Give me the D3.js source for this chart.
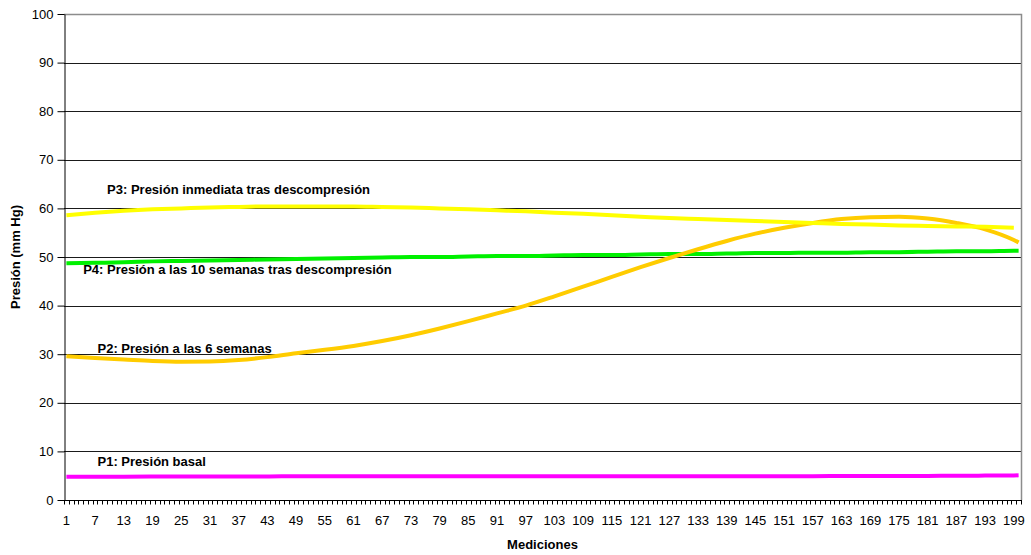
<!DOCTYPE html>
<html>
<head>
<meta charset="utf-8">
<script src="https://cdn.jsdelivr.net/npm/d3@7/dist/d3.min.js"></script>
<style>
  html, body { margin: 0; padding: 0; background: #fff; }
  svg { display: block; font-family: "Liberation Sans", Arial, sans-serif; }
</style>
</head>
<body>
<svg id="chart" width="1031" height="555"></svg>
<script>
// Measurement numbers 1..200 on the category axis
const categories = d3.range(1, 201);
const xTickLabels = [1, 7, 13, 19, 25, 31, 37, 43, 49, 55, 61, 67, 73, 79, 85, 91, 97, 103, 109,
  115, 121, 127, 133, 139, 145, 151, 157, 163, 169, 175, 181, 187, 193, 199];
const yTicks = [0, 10, 20, 30, 40, 50, 60, 70, 80, 90, 100];

// Pressure readings (mm Hg) sampled at these measurement numbers
const samples = [1, 7, 13, 19, 25, 31, 37, 43, 49, 55, 61, 67, 73, 79, 85, 91, 97, 103, 109,
  115, 121, 127, 133, 139, 145, 151, 157, 163, 169, 175, 181, 187, 193, 199, 200];

const p1 = [4.80, 4.80, 4.80, 4.82, 4.86, 4.86, 4.86, 4.86, 4.87, 4.87, 4.87, 4.87, 4.88, 4.88, 4.88,
  4.88, 4.89, 4.89, 4.89, 4.89, 4.90, 4.90, 4.90, 4.90, 4.91, 4.91, 4.91, 4.92, 4.92, 4.92,
  4.95, 5.00, 5.02, 5.05, 5.08];
const p2 = [29.6, 29.2, 28.9, 28.6, 28.45, 28.5, 28.8, 29.4, 30.2, 30.9, 31.7, 32.7, 33.9, 35.3, 36.8,
  38.4, 40.0, 41.9, 43.9, 45.9, 47.9, 49.8, 51.6, 53.3, 54.8, 56.0, 57.0, 57.8, 58.2, 58.3,
  57.9, 57.0, 55.7, 53.5, 53.0];
const p3 = [58.6, 59.1, 59.5, 59.8, 60.0, 60.2, 60.3, 60.4, 60.4, 60.4, 60.4, 60.3, 60.2, 60.0, 59.8,
  59.6, 59.4, 59.1, 58.9, 58.6, 58.3, 58.0, 57.8, 57.6, 57.4, 57.2, 57.0, 56.8, 56.7, 56.5,
  56.4, 56.3, 56.2, 56.0, null];
const p4 = [48.7, 48.8, 48.9, 49.1, 49.2, 49.3, 49.4, 49.5, 49.6, 49.7, 49.8, 49.9, 50.0, 50.0, 50.1,
  50.2, 50.2, 50.3, 50.4, 50.4, 50.5, 50.6, 50.6, 50.7, 50.8, 50.8, 50.9, 50.9, 51.0, 51.0,
  51.1, 51.2, 51.2, 51.3, 51.3];

const series = [
  { name: "P1", values: p1, color: "#ff00ff" },
  { name: "P4", values: p4, color: "#00f000" },
  { name: "P2", values: p2, color: "#ffcc00" },
  { name: "P3", values: p3, color: "#ffff00" }
];

const labels = [
  { text: "P3: Presión inmediata tras descompresión", at: 10, value: 63.0, dx: 0 },
  { text: "P4: Presión a las 10 semanas tras descompresión", at: 5, value: 46.5, dx: 0 },
  { text: "P2: Presión a las 6 semanas", at: 8, value: 30.2, dx: 0 },
  { text: "P1: Presión basal", at: 8, value: 7.0, dx: 0 }
];

const svg = d3.select("#chart");
const plot = { left: 64, right: 1021, top: 14, bottom: 500 };

const x = d3.scaleBand().domain(categories).range([plot.left, plot.right]).padding(0);
const y = d3.scaleLinear().domain([0, 100]).range([plot.bottom, plot.top]);
const cx = c => x(c) + x.bandwidth() / 2;

// Horizontal gridlines
svg.append("g")
  .selectAll("line")
  .data(yTicks.filter(v => v > 0 && v < 100))
  .join("line")
  .attr("x1", plot.left).attr("x2", plot.right)
  .attr("y1", d => Math.round(y(d)) + 0.5).attr("y2", d => Math.round(y(d)) + 0.5)
  .attr("stroke", "#1a1a1a").attr("stroke-width", 1);

// Plot-area border (top and right)
svg.append("path")
  .attr("d", `M${plot.left},${Math.round(y(100)) + 0.5}H${plot.right + 0.5}V${plot.bottom}`)
  .attr("fill", "none").attr("stroke", "#8c8c8c").attr("stroke-width", 1.5);

// Series lines
const line = d3.line()
  .defined(d => d.v != null)
  .x(d => cx(d.c))
  .y(d => y(d.v))
  .curve(d3.curveMonotoneX);

svg.append("g")
  .selectAll("path")
  .data(series)
  .join("path")
  .attr("d", s => line(samples.map((c, i) => ({ c, v: s.values[i] }))))
  .attr("fill", "none")
  .attr("stroke", s => s.color)
  .attr("stroke-width", 4)
  .attr("stroke-linecap", "butt");

// Y axis
const yAxis = svg.append("g")
  .attr("transform", `translate(${plot.left + 0.5},0)`)
  .call(d3.axisLeft(y).tickValues(yTicks).tickSize(7).tickSizeOuter(0).tickPadding(4));
yAxis.select(".domain").attr("stroke", "#000");
yAxis.selectAll(".tick line").attr("stroke", "#000");
yAxis.selectAll("text").attr("font-size", 13).attr("fill", "#000")
  .attr("font-family", "Liberation Sans, Arial, sans-serif");

// X axis: tick marks at category boundaries, labels at category centres
const xAxisG = svg.append("g").attr("transform", `translate(0,${plot.bottom + 0.5})`);
xAxisG.append("line")
  .attr("x1", plot.left).attr("x2", plot.right + 1)
  .attr("stroke", "#000");
xAxisG.selectAll("line.mark")
  .data(categories.concat([null]))
  .join("line")
  .attr("class", "mark")
  .attr("x1", d => Math.round(d == null ? plot.right : x(d)) + 0.5)
  .attr("x2", d => Math.round(d == null ? plot.right : x(d)) + 0.5)
  .attr("y1", 0).attr("y2", 4)
  .attr("stroke", "#000").attr("stroke-width", 1);

const xLabels = svg.append("g")
  .attr("transform", `translate(0,${plot.bottom})`)
  .call(d3.axisBottom(x).tickValues(xTickLabels).tickSize(0).tickPadding(15.5));
xLabels.select(".domain").remove();
xLabels.selectAll("text").attr("font-size", 13).attr("fill", "#000")
  .attr("font-family", "Liberation Sans, Arial, sans-serif");

// Axis titles
svg.append("text")
  .attr("x", (plot.left + plot.right) / 2).attr("y", 549)
  .attr("text-anchor", "middle")
  .attr("font-size", 13).attr("font-weight", "bold")
  .text("Mediciones");

svg.append("text")
  .attr("transform", `translate(20,${(plot.top + plot.bottom) / 2}) rotate(-90)`)
  .attr("text-anchor", "middle")
  .attr("font-size", 13).attr("font-weight", "bold")
  .text("Presión (mm Hg)");

// Series labels
svg.append("g")
  .selectAll("text")
  .data(labels)
  .join("text")
  .attr("x", d => x(d.at))
  .attr("y", d => y(d.value))
  .attr("font-size", 13).attr("font-weight", "bold").attr("fill", "#000")
  .text(d => d.text);
</script>
</body>
</html>
